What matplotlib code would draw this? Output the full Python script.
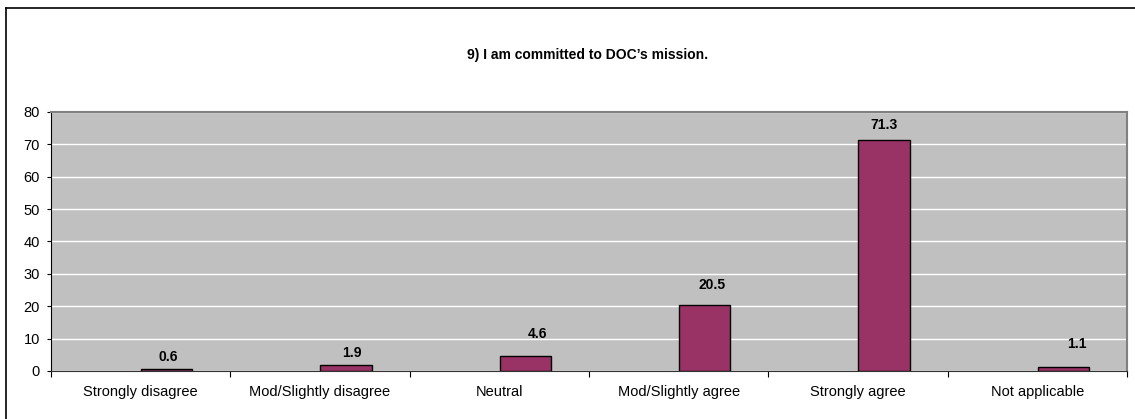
import matplotlib.pyplot as plt
from matplotlib.lines import Line2D
import numpy as np

plt.rcParams['font.family'] = ['Liberation Sans', 'DejaVu Sans']

categories = ["Strongly disagree", "Mod/Slightly disagree", "Neutral",
              "Mod/Slightly agree", "Strongly agree", "Not applicable"]
values = [0.6, 1.9, 4.6, 20.5, 71.3, 1.1]
y_ticks = [0, 10, 20, 30, 40, 50, 60, 70, 80]
title = "9) I am committed to DOC\u2019s mission."

# label nudges in pixels (as placed in the original)
label_dx = [2, 6, 12, 7, 0, 13]
label_dy = [5, 5, 15, 13, 8, 16]

fig = plt.figure(figsize=(11.35, 4.19), dpi=100)
ax = fig.add_axes([0.0449, 0.1146, 0.9481, 0.6181])
ax.set_facecolor('#C0C0C0')

x = np.arange(len(categories))
bar_x = x + 0.145
ax.bar(bar_x, values, width=0.2857, color='#993366', edgecolor='black', linewidth=1, zorder=3)

for xi, v, dx, dy in zip(bar_x, values, label_dx, label_dy):
    ax.annotate("{:.1f}".format(v), (xi, v), xytext=(dx * 0.72, dy * 0.72),
                textcoords='offset points', ha='center', va='bottom',
                fontsize=10, fontweight='bold', zorder=4)

ax.set_xlim(-0.5, len(categories) - 0.5)
ax.set_ylim(0, 80)
ax.set_yticks(y_ticks)
ax.set_yticklabels([str(t) for t in y_ticks], fontsize=10.5)
ax.yaxis.grid(True, color='white', linewidth=1, zorder=0)
ax.set_axisbelow(True)

# category labels between boundary ticks
ax.set_xticks(np.arange(len(categories) + 1) - 0.5)
ax.set_xticklabels([])
ax.set_xticks(x, minor=True)
ax.set_xticklabels(categories, minor=True, fontsize=10.5)
ax.tick_params(axis='x', which='minor', length=0, pad=10)
ax.tick_params(axis='x', which='major', length=4, direction='out', color='black')
ax.tick_params(axis='y', length=3, direction='out', pad=5)

for s in ['top', 'right']:
    ax.spines[s].set_color('#808080')
    ax.spines[s].set_linewidth(1.5)
ax.spines['left'].set_color('black')
ax.spines['bottom'].set_color('#333333')

fig.text(0.518, 0.869, title, ha='center', va='center', fontsize=10, fontweight='bold')

# outer chart border (top and left)
fig.add_artist(Line2D([5.5 / 1135, 5.5 / 1135], [0, 1 - 8 / 419], color='black', linewidth=1.2))
fig.add_artist(Line2D([5.5 / 1135, 1], [1 - 8 / 419, 1 - 8 / 419], color='black', linewidth=1.2))

fig.savefig("out.png", dpi=100)
